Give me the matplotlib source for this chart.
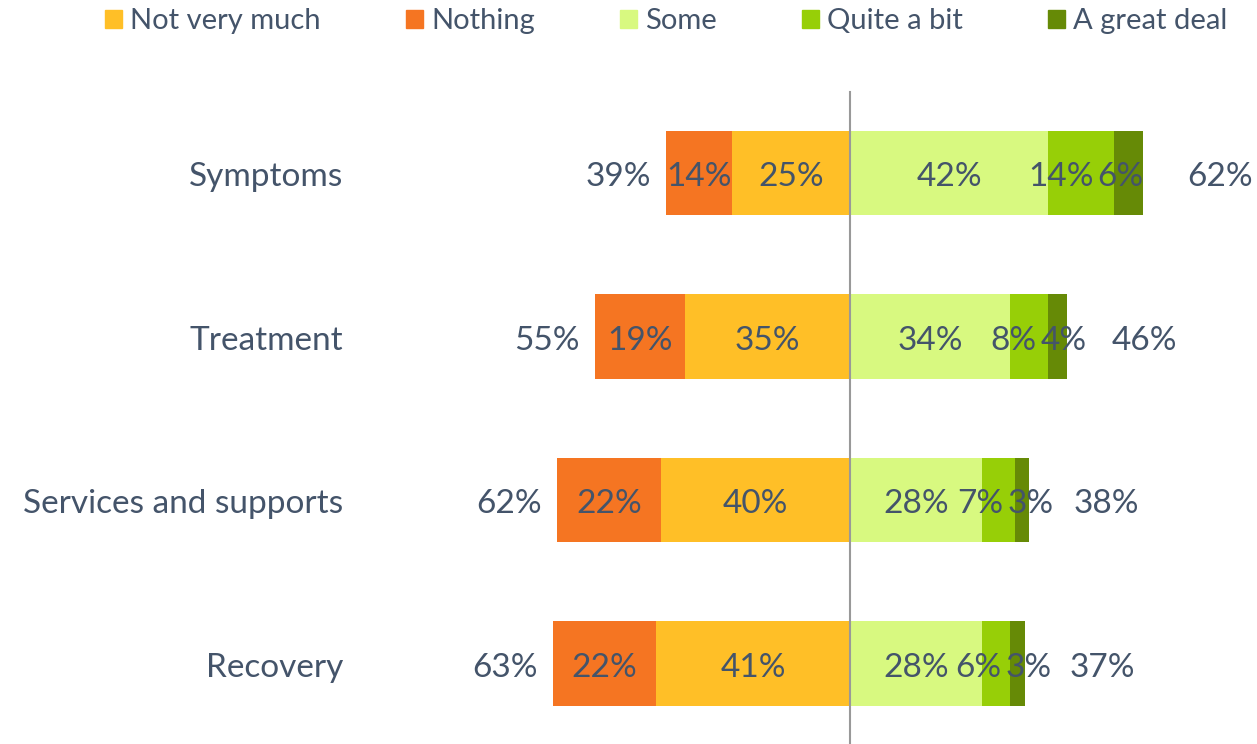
import numpy as np
import matplotlib.pyplot as plt
import matplotlib as mpl
from matplotlib.patches import Patch

mpl.rcParams.update({'font.family': ['Lato', 'DejaVu Sans'], 'font.size': 24})

categories = ['Symptoms', 'Treatment', 'Services and supports', 'Recovery']
nothing = [14, 19, 22, 22]
not_very = [25, 35, 40, 41]
some = [42, 34, 28, 28]
quite = [14, 8, 7, 6]
great = [6, 4, 3, 3]
neg_total = [39, 55, 62, 63]
pos_total = [62, 46, 38, 37]

c_notvery, c_nothing = '#FFBF27', '#F57522'
c_some, c_quite, c_great = '#D8F980', '#97CF07', '#668A06'
txt = '#44546A'

W, H = 1257, 744
fig = plt.figure(figsize=(W/100, H/100), dpi=100)
ax = fig.add_axes([0, 0, 1, 1])
px = 4.72  # pixels per percent
cx = 850
ax.set_xlim(-cx/px, (W-cx)/px)
ax.set_ylim((H-173)/163.5, -173/163.5)
ax.axis('off')

y = np.arange(len(categories))
h = 0.515
nv = np.array(not_very); no = np.array(nothing)
so = np.array(some); qu = np.array(quite); gr = np.array(great)

ax.barh(y, -nv, height=h, color=c_notvery)
ax.barh(y, -no, left=-nv, height=h, color=c_nothing)
ax.barh(y, so, height=h, color=c_some)
ax.barh(y, qu, left=so, height=h, color=c_quite)
ax.barh(y, gr, left=so+qu, height=h, color=c_great)

ax.plot([0, 0], [(H-173)/163.5, (92-173)/163.5], color='#999999', lw=1.5, zorder=5)

dy = -3  # points, text sits a touch below bar centre
lab_tr = mpl.transforms.blended_transform_factory(fig.transFigure, ax.transData)
pairs = []
for i in range(len(categories)):
    segs = [(-nv[i]/2, nv[i]), (-nv[i]-no[i]/2, no[i]), (so[i]/2, so[i])]
    for xc, v in segs:
        ax.annotate(f'{v}%', (xc, i), xytext=(0, dy), textcoords='offset points',
                    ha='center', va='center', color=txt, zorder=6)
    t1 = ax.annotate(f'{qu[i]}%', (so[i]+qu[i]/2, i), xytext=(0, dy), textcoords='offset points',
                     ha='center', va='center', color=txt, zorder=6)
    t2 = ax.annotate(f'{gr[i]}%', (so[i]+qu[i]+gr[i]/2, i), xytext=(0, dy), textcoords='offset points',
                     ha='center', va='center', color=txt, zorder=6)
    pairs.append((i, t1, t2))
    ax.annotate(f'{neg_total[i]}%', (-nv[i]-no[i], i), xytext=(-11, dy),
                textcoords='offset points', ha='right', va='center', color=txt)
    ax.annotate(f'{pos_total[i]}%', (so[i]+qu[i]+gr[i], i), xytext=(32, dy),
                textcoords='offset points', ha='left', va='center', color=txt)
    ax.annotate(categories[i], (343/W, i), xycoords=lab_tr, xytext=(0, dy),
                textcoords='offset points', ha='right', va='center', color=txt)

# push crowded small-segment labels apart so they just touch
fig.canvas.draw()
r = fig.canvas.get_renderer()
for i, t1, t2 in pairs:
    b1 = t1.get_window_extent(r); b2 = t2.get_window_extent(r)
    if b1.x1 > b2.x0:
        mid = so[i] + (qu[i] + gr[i]) / 2
        t1.set_ha('right'); t1.xyann = (-1.5, dy); t1.xy = (mid, i)
        t2.set_ha('left'); t2.xyann = (1.5, dy); t2.xy = (mid, i)

handles = [Patch(color=c_notvery, label='Not very much'),
           Patch(color=c_nothing, label='Nothing'),
           Patch(color=c_some, label='Some'),
           Patch(color=c_quite, label='Quite a bit'),
           Patch(color=c_great, label='A great deal')]
leg = fig.legend(handles=handles, loc='upper center', bbox_to_anchor=(0.530, 1.024), ncol=5,
                 frameon=False, fontsize=21, handlelength=0.58, handleheight=0.58,
                 handletextpad=0.3, columnspacing=2.9)
for t in leg.get_texts():
    t.set_color(txt)

fig.savefig('out.png', dpi=100)
